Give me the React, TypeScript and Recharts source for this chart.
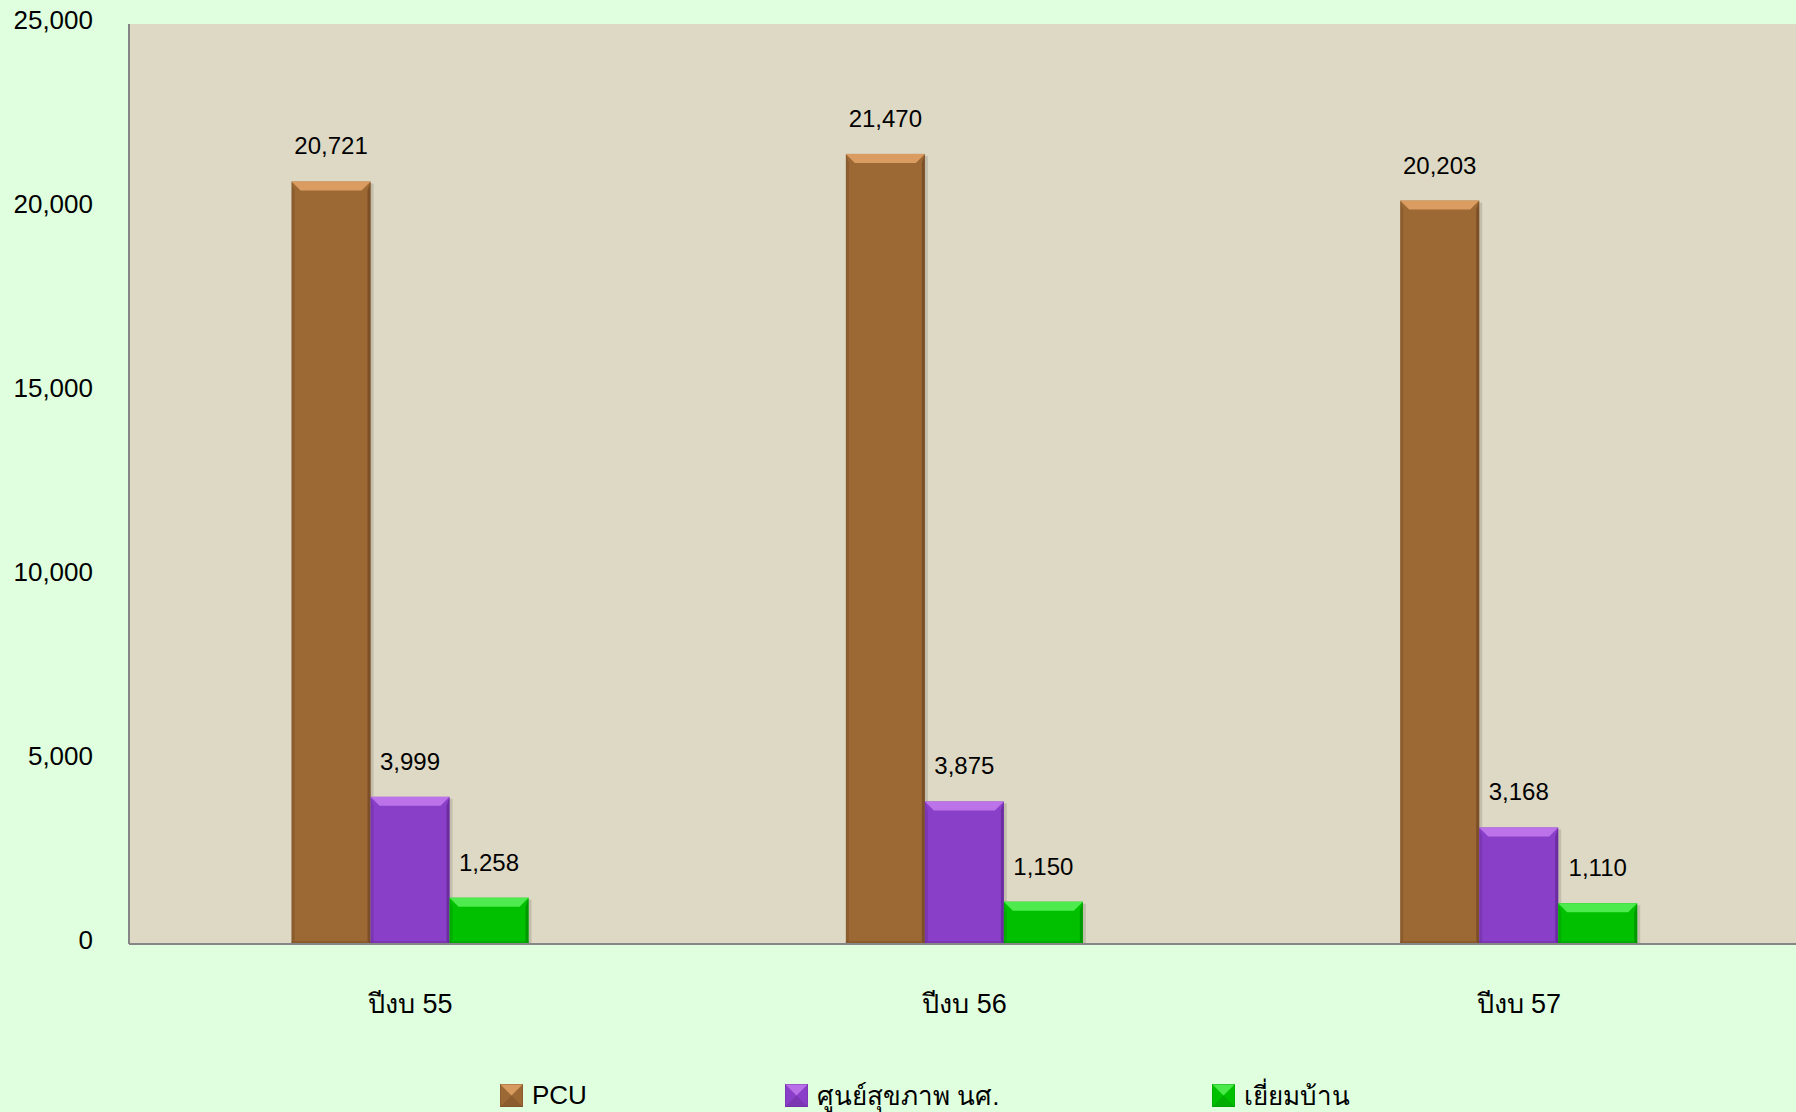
import { BarChart, Bar, XAxis, YAxis, Legend, LabelList, CartesianGrid } from 'recharts';

const categories = ['ปีงบ 55', 'ปีงบ 56', 'ปีงบ 57'];
const pcu = [20721, 21470, 20203];
const healthCenter = [3999, 3875, 3168];
const homeVisit = [1258, 1150, 1110];
const yTicks = [0, 5000, 10000, 15000, 20000, 25000];

const seriesNames = ['PCU', 'ศูนย์สุขภาพ นศ.', 'เยี่ยมบ้าน'];

const data = categories.map((name, i) => ({
  name,
  pcu: pcu[i],
  health: healthCenter[i],
  visit: homeVisit[i],
}));

const palette = [
  { key: 'pcu', fill: '#9c6935', light: '#e6a66a', dark: '#6e4522', w: 285 },
  { key: 'health', fill: '#8a3fc8', light: '#c47cf0', dark: '#5e2490', w: 427 },
  { key: 'visit', fill: '#00c000', light: '#5cf25c', dark: '#008a00', w: 220 },
];

const FONT = '"Liberation Sans", Arial, "DejaVu Sans", sans-serif';
const fmt = (v: number) => v.toLocaleString('en-US');

function makeShape(c: { fill: string; light: string; dark: string }) {
  return (props: any) => {
    const { x, y, width, height } = props;
    if (!height || height <= 0) return null;
    const b = Math.min(9, height / 3);
    return (
      <g>
        <rect x={x + 3} y={y + 2} width={width} height={height - 2} fill="rgba(0,0,0,0.12)" />
        <rect x={x} y={y} width={width} height={height} fill={c.fill} />
        <polygon
          points={`${x},${y} ${x + width},${y} ${x + width - b},${y + b} ${x + b},${y + b}`}
          fill={c.light}
          opacity={0.85}
        />
        <polygon
          points={`${x},${y} ${x + 3},${y + b} ${x + 3},${y + height - 3} ${x},${y + height}`}
          fill={c.dark}
          opacity={0.35}
        />
        <polygon
          points={`${x + width},${y} ${x + width - 3},${y + b} ${x + width - 3},${y + height - 3} ${x + width},${y + height}`}
          fill={c.dark}
          opacity={0.7}
        />
        <rect x={x} y={y + height - 3} width={width} height={3} fill={c.dark} opacity={0.35} />
      </g>
    );
  };
}

const renderLegend = () => (
  <div
    style={{
      height: 68,
      boxSizing: 'border-box',
      paddingTop: 34,
      paddingLeft: 500,
      display: 'flex',
      alignItems: 'center',
      fontFamily: FONT,
      fontSize: 26,
      color: '#000',
    }}
  >
    {palette.map((c, i) => (
      <div key={c.key} style={{ display: 'flex', alignItems: 'center', width: c.w, flexShrink: 0 }}>
        <svg width={23} height={23} style={{ marginRight: 9 }}>
          <rect x={0} y={0} width={23} height={23} fill={c.fill} />
          <polygon points="0,0 23,0 11.5,11.5" fill={c.light} opacity={0.8} />
          <polygon points="0,23 23,23 11.5,11.5" fill={c.dark} opacity={0.35} />
          <rect x={0} y={0} width={23} height={23} fill="none" stroke={c.dark} strokeWidth={1} opacity={0.6} />
        </svg>
        <span>{seriesNames[i]}</span>
      </div>
    ))}
  </div>
);

export default function App() {
  return (
    <div style={{ position: 'absolute', left: 0, top: 0, width: 1796, height: 1112, background: '#dfffdf' }}>
      <BarChart
        width={1796}
        height={1112}
        data={data}
        margin={{ top: 24, right: 0, left: 0, bottom: 0 }}
        barCategoryGap="28.6%"
        barGap={0}
      >
        <CartesianGrid fill="#ded9c4" stroke="none" horizontal={false} vertical={false} />
        <XAxis
          dataKey="name"
          height={100}
          padding={{ left: 4, right: 0 }}
          axisLine={{ stroke: '#868686', strokeWidth: 2 }}
          tickLine={false}
          tickMargin={44}
          tick={{ fontSize: 27, fill: '#000', fontFamily: FONT }}
        />
        <YAxis
          width={129}
          domain={[0, 25000]}
          ticks={yTicks}
          tickFormatter={fmt}
          axisLine={{ stroke: '#868686', strokeWidth: 2 }}
          tickLine={false}
          tickMargin={30}
          tick={{ fontSize: 26, fill: '#000', fontFamily: FONT, dy: -4 }}
        />
        <Legend verticalAlign="bottom" height={68} content={renderLegend} />
        {palette.map((c) => (
          <Bar key={c.key} dataKey={c.key} fill={c.fill} shape={makeShape(c)} isAnimationActive={false}>
            <LabelList
              dataKey={c.key}
              position="top"
              offset={27}
              formatter={(v: any) => fmt(Number(v))}
              style={{ fontSize: 24, fill: '#000', fontFamily: FONT }}
            />
          </Bar>
        ))}
      </BarChart>
    </div>
  );
}
